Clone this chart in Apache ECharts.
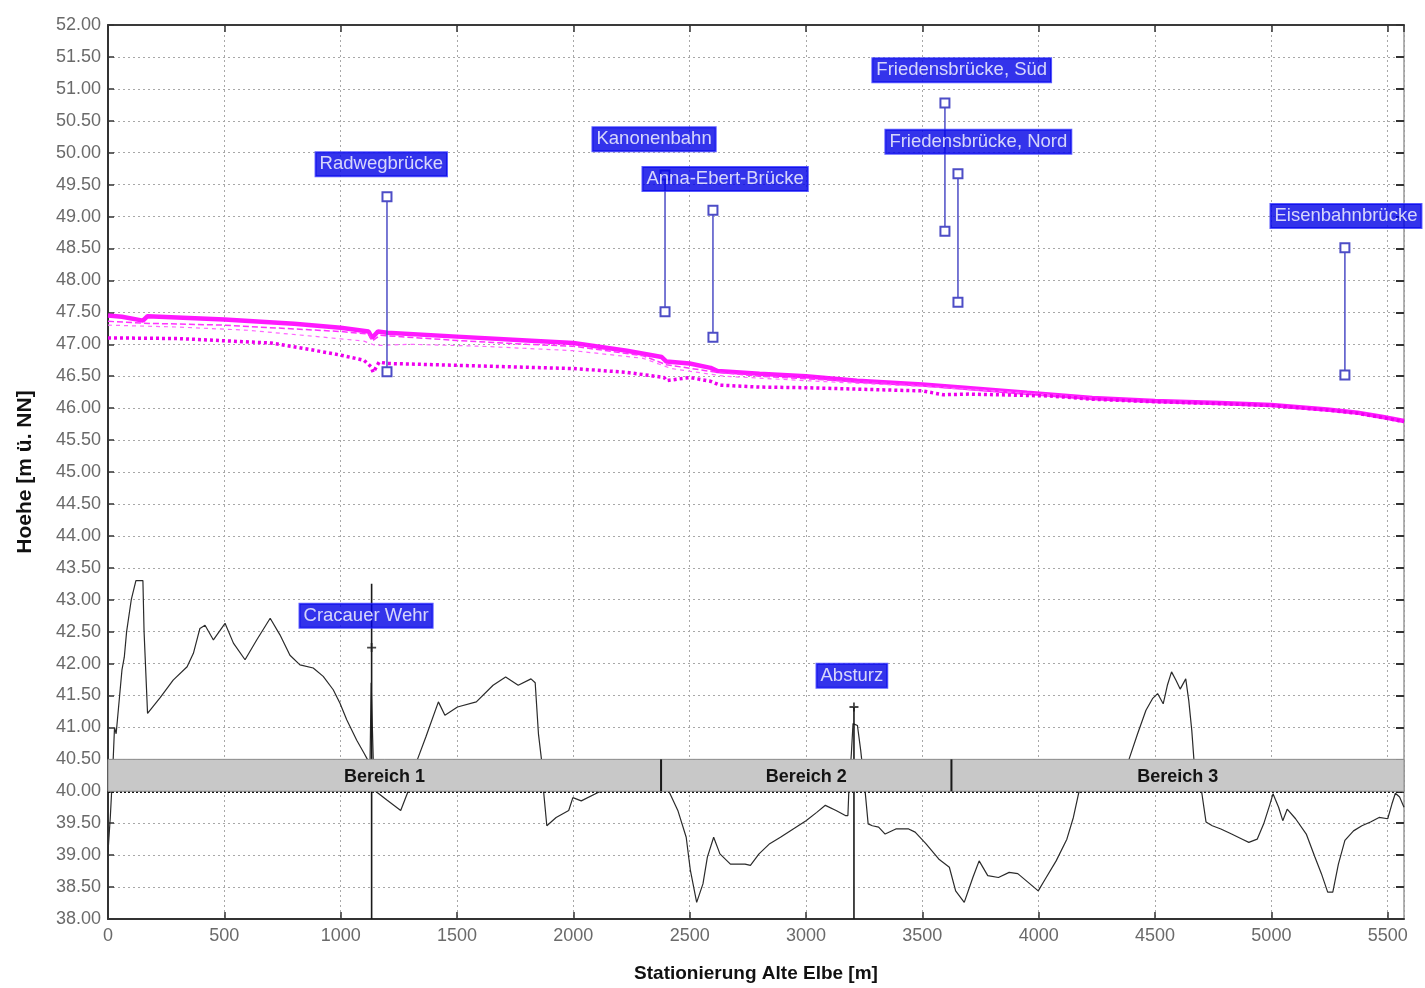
<!DOCTYPE html>
<html>
<head>
<meta charset="utf-8">
<script src="https://cdn.jsdelivr.net/npm/echarts@6/dist/echarts.min.js"></script>
<style>
  html, body { margin: 0; padding: 0; background: #ffffff; }
  #chart { width: 1425px; height: 988px; }
</style>
</head>
<body>
<div id="chart"></div>
<script>
// Axis ranges (Stationierung in m, Höhe in m ü. NN)
const X_MIN = 0, X_MAX = 5570, X_STEP = 500;
const Y_MIN = 38, Y_MAX = 52, Y_STEP = 0.5;

// Sohlprofil (bed profile) along the Alte Elbe
const bedStation = [0, 10, 20, 28, 35, 45, 50, 60, 70, 80, 100, 120, 150, 155, 170, 225, 280, 340, 367, 395,
  417, 453, 503, 539, 589, 639, 697, 739, 782, 825, 882, 925, 968, 997, 1026, 1069, 1100, 1115, 1126, 1131,
  1138, 1143, 1150, 1200, 1258, 1290, 1310, 1330, 1366, 1420, 1448, 1502, 1583, 1655, 1709, 1763, 1818, 1836, 1850, 1863,
  1872, 1886, 1926, 1980, 1998, 2034, 2106, 2150, 2300, 2400, 2413, 2449, 2485, 2503, 2530, 2557, 2576, 2603, 2630, 2675,
  2738, 2761, 2798, 2844, 2890, 2945, 3000, 3046, 3083, 3129, 3169, 3180, 3184, 3195, 3202, 3221, 3235, 3245, 3254, 3267,
  3285, 3312, 3340, 3386, 3441, 3469, 3515, 3570, 3616, 3643, 3680, 3717, 3744, 3781, 3827, 3873, 3910, 3956, 3998, 4029,
  4075, 4121, 4149, 4173, 4250, 4350, 4388, 4425, 4461, 4489, 4511, 4535, 4553, 4571, 4590, 4608, 4632, 4645, 4658, 4667,
  4685, 4700, 4719, 4746, 4783, 4829, 4875, 4903, 4939, 4967, 4994, 5007, 5031, 5049, 5068, 5104, 5150, 5187, 5215, 5242,
  5264, 5288, 5316, 5353, 5389, 5426, 5463, 5500, 5518, 5533, 5551, 5570];
const bedHeight = [39.05, 39.6, 40.3, 41.0, 40.9, 41.3, 41.5, 41.9, 42.1, 42.5, 43.0, 43.3, 43.3, 42.5, 41.22, 41.47, 41.74, 41.95, 42.16, 42.55,
  42.6, 42.37, 42.63, 42.32, 42.06, 42.37, 42.71, 42.45, 42.13, 41.98, 41.93, 41.8, 41.59, 41.38, 41.12, 40.8, 40.6, 40.5, 40.4, 41.7,
  41.7, 40.1, 40.0, 39.86, 39.7, 40.0, 40.3, 40.5, 40.85, 41.4, 41.19, 41.32, 41.4, 41.66, 41.79, 41.66, 41.76, 41.7, 40.9, 40.5,
  40.0, 39.46, 39.59, 39.7, 39.9, 39.85, 39.98, 40.05, 40.1, 40.05, 39.98, 39.7, 39.28, 38.76, 38.26, 38.55, 38.97, 39.28, 39.02, 38.86,
  38.86, 38.84, 39.02, 39.18, 39.28, 39.41, 39.54, 39.67, 39.78, 39.7, 39.62, 39.62, 40.0, 40.6, 41.06, 41.03, 40.64, 40.3, 40.0, 39.49,
  39.46, 39.44, 39.33, 39.41, 39.41, 39.36, 39.18, 38.94, 38.81, 38.44, 38.26, 38.65, 38.91, 38.68, 38.65, 38.73, 38.71, 38.57, 38.44, 38.63,
  38.91, 39.25, 39.59, 39.99, 40.1, 40.3, 40.5, 40.9, 41.27, 41.45, 41.53, 41.37, 41.66, 41.87, 41.74, 41.6, 41.76, 41.42, 40.95, 40.5,
  40.2, 40.0, 39.52, 39.46, 39.41, 39.33, 39.25, 39.2, 39.25, 39.49, 39.8, 39.96, 39.75, 39.54, 39.72, 39.57, 39.33, 38.97, 38.71, 38.42,
  38.42, 38.86, 39.23, 39.38, 39.46, 39.52, 39.59, 39.57, 39.8, 39.97, 39.91, 39.75];

// Wasserspiegellagen (water surface profiles), [station, height]
const wspUpper = [[0, 47.45], [60, 47.43], [150, 47.37], [170, 47.44], [500, 47.39], [800, 47.32], [1000, 47.26], [1120, 47.2],
  [1135, 47.1], [1160, 47.2], [1200, 47.18], [1500, 47.12], [1800, 47.06], [2000, 47.02], [2230, 46.9], [2380, 46.8], [2400, 46.73],
  [2500, 46.7], [2590, 46.63], [2620, 46.58], [2800, 46.54], [3000, 46.5], [3220, 46.43], [3500, 46.37], [3680, 46.32], [3950, 46.24],
  [4230, 46.16], [4500, 46.11], [4780, 46.08], [5000, 46.05], [5240, 45.98], [5370, 45.93], [5480, 45.86], [5570, 45.8]];
const wspSecond = [[0, 47.36], [150, 47.33], [500, 47.3], [800, 47.24], [1000, 47.2], [1120, 47.16], [1135, 47.05], [1170, 47.14],
  [1500, 47.06], [1800, 47.0], [2000, 46.97], [2300, 46.82], [2400, 46.68], [2600, 46.57], [2800, 46.5], [3000, 46.46], [3400, 46.38],
  [3700, 46.3], [4000, 46.23], [4230, 46.16]];
const wspThird = [[0, 47.3], [300, 47.27], [600, 47.22], [900, 47.12], [1100, 47.05], [1150, 46.98], [1300, 47.0], [1600, 46.97],
  [2000, 46.9], [2300, 46.78], [2420, 46.62], [2650, 46.5], [3000, 46.43], [3500, 46.34], [3800, 46.27], [4050, 46.2]];
const wspLower = [[0, 47.1], [300, 47.09], [700, 47.02], [880, 46.91], [1000, 46.83], [1100, 46.75], [1130, 46.65], [1140, 46.56],
  [1165, 46.72], [1200, 46.7], [1500, 46.67], [1800, 46.64], [2000, 46.62], [2230, 46.56], [2390, 46.48], [2400, 46.43], [2500, 46.48],
  [2590, 46.42], [2630, 46.36], [2800, 46.33], [3000, 46.32], [3500, 46.27], [3590, 46.21], [3700, 46.22], [4050, 46.19], [4230, 46.14],
  [4500, 46.1], [4780, 46.07], [5000, 46.04], [5240, 45.97], [5370, 45.92], [5480, 45.85], [5570, 45.79]];

// Brücken: station, Unterkante, Oberkante
const bridgeName = ['Radwegbrücke', 'Kanonenbahn', 'Anna-Ebert-Brücke', 'Friedensbrücke, Süd', 'Friedensbrücke, Nord', 'Eisenbahnbrücke'];
const bridgeStation = [1199, 2394, 2600, 3597, 3653, 5316];
const bridgeBottom = [46.57, 47.51, 47.11, 48.77, 47.66, 46.52];
const bridgeTop = [49.31, 49.65, 49.10, 50.78, 49.67, 48.51];

// Bauwerke im Fluss: station, Oberkante, Markierung
const structName = ['Cracauer Wehr', 'Absturz'];
const structStation = [1133, 3206];
const structTop = [43.25, 41.32];
const structMark = [42.25, 41.32];

// Beschriftungen: linker Rand und Mitte in Achsenkoordinaten
const annoText = ['Radwegbrücke', 'Kanonenbahn', 'Anna-Ebert-Brücke', 'Friedensbrücke, Süd', 'Friedensbrücke, Nord', 'Eisenbahnbrücke', 'Cracauer Wehr', 'Absturz'];
const annoStation = [890, 2080, 2295, 3283, 3339, 4994, 821, 3043];
const annoHeight = [49.82, 50.21, 49.59, 51.29, 50.17, 49.01, 42.75, 41.81];

// Bereiche (Abschnitte) der Alten Elbe
const bandName = ['Bereich 1', 'Bereich 2', 'Bereich 3'];
const bandStart = [0, 2377, 3625];
const bandEnd = [2377, 3625, 5570];
const BAND_LOW = 40.0, BAND_HIGH = 40.5;

const FONT = '"Liberation Sans", Arial, sans-serif';
const chart = echarts.init(document.getElementById('chart'), null, { renderer: 'canvas' });

const gridLine = { show: true, lineStyle: { color: '#a8a8a8', type: [2, 3], width: 1 } };

const series = [];

series.push({
  name: 'Sohle', type: 'line', z: 3, showSymbol: false,
  data: bedStation.map((s, i) => [s, bedHeight[i]]),
  lineStyle: { color: '#2b2b2b', width: 1.2 }
});

series.push({ name: 'WSP 1', type: 'line', z: 4, showSymbol: false, data: wspUpper,
  lineStyle: { color: '#ff00ff', width: 4.5, opacity: 0.9 } });
series.push({ name: 'WSP 2', type: 'line', z: 4, showSymbol: false, data: wspSecond,
  lineStyle: { color: '#ff33ff', width: 1.5, type: [6, 3] } });
series.push({ name: 'WSP 3', type: 'line', z: 4, showSymbol: false, data: wspThird,
  lineStyle: { color: '#ff66ff', width: 1.2, type: [4, 4] } });
series.push({ name: 'WSP 4', type: 'line', z: 4, showSymbol: false, data: wspLower,
  lineStyle: { color: '#ee00ee', width: 3.5, type: [3, 3] } });

// Weir and drop structures (drawn beneath the range bands)
structName.forEach((n, i) => {
  series.push({
    name: n, type: 'line', z: 5, showSymbol: false,
    data: [[structStation[i], Y_MIN], [structStation[i], structTop[i]]],
    lineStyle: { color: '#1a1a1a', width: 1.6 }
  });
});
series.push({
  name: 'Bauwerk', type: 'scatter', z: 5,
  symbol: 'path://M4,0H6V4H10V6H6V10H4V6H0V4H4Z', symbolSize: 9,
  data: structStation.map((s, i) => [s, structMark[i]]),
  itemStyle: { color: '#1a1a1a' }
});

// Gray range bands with their names
series.push({
  name: 'Bereiche', type: 'custom', z: 6, silent: true,
  data: bandStart.map((s, i) => [s, bandEnd[i]]),
  encode: { x: [0, 1] },
  renderItem(params, api) {
    const a = api.coord([api.value(0), BAND_HIGH]);
    const b = api.coord([api.value(1), BAND_LOW]);
    const children = [
      { type: 'rect', shape: { x: a[0], y: a[1], width: b[0] - a[0], height: b[1] - a[1] },
        style: { fill: '#c8c8c8', stroke: '#8c8c8c', lineWidth: 1 } },
      { type: 'text', x: (a[0] + b[0]) / 2, y: (a[1] + b[1]) / 2 + 2,
        style: { text: bandName[params.dataIndex], fill: '#141414', font: 'bold 18px ' + FONT,
                 align: 'center', verticalAlign: 'middle' } }
    ];
    if (params.dataIndex > 0) {
      children.push({ type: 'line', shape: { x1: a[0], y1: a[1], x2: a[0], y2: b[1] },
        style: { stroke: '#1a1a1a', lineWidth: 2 } });
    }
    return { type: 'group', children };
  },
  markLine: {
    silent: true, symbol: 'none', label: { show: false },
    data: [{ yAxis: BAND_LOW }],
    lineStyle: { color: '#111', type: [2, 2], width: 2 }
  }
});

// Bridges: vertical line between lower and upper edge
bridgeName.forEach((n, i) => {
  series.push({
    name: n, type: 'line', z: 8, symbol: 'emptyRect', symbolSize: 9, showSymbol: true,
    data: [[bridgeStation[i], bridgeBottom[i]], [bridgeStation[i], bridgeTop[i]]],
    lineStyle: { color: '#4d4dc6', width: 1.5 },
    itemStyle: { color: '#4d4dc6', borderColor: '#4d4dc6', borderWidth: 1.5 }
  });
});

// Blue name tags
series.push({
  name: 'Beschriftung', type: 'scatter', z: 20, symbolSize: 1,
  itemStyle: { color: 'rgba(0,0,0,0)' },
  data: annoStation.map((s, i) => ({ value: [s, annoHeight[i]], name: annoText[i] })),
  label: {
    show: true, position: 'right', distance: 0, formatter: p => p.name,
    color: '#ffffff', fontSize: 18.5, fontFamily: FONT,
    backgroundColor: '#0000e6', borderColor: '#3232ff', borderWidth: 1,
    padding: [3, 4, 2, 4]
  }
});

chart.setOption({
  animation: false,
  backgroundColor: '#ffffff',
  grid: { left: 108, right: 21, top: 25, bottom: 69 },
  xAxis: [
    {
      type: 'value', position: 'bottom', min: X_MIN, max: X_MAX, interval: X_STEP,
      name: 'Stationierung Alte Elbe [m]', nameLocation: 'middle', nameGap: 45,
      nameTextStyle: { color: '#111', fontSize: 19, fontWeight: 'bold', fontFamily: FONT },
      axisLine: { show: true, onZero: false, lineStyle: { color: '#333', width: 2 } },
      axisTick: { show: true, inside: true, length: 7, lineStyle: { color: '#333', width: 1.5 } },
      axisLabel: { color: '#6a6a6a', fontSize: 18, fontFamily: FONT, margin: 8, showMaxLabel: false,
                   formatter: v => String(Math.round(v)) },
      splitLine: gridLine
    },
    {
      type: 'value', position: 'top', min: X_MIN, max: X_MAX, interval: X_STEP,
      axisLine: { show: true, onZero: false, lineStyle: { color: '#3a3a3a', width: 2 } },
      axisTick: { show: true, inside: true, length: 7, lineStyle: { color: '#333', width: 1.5 } },
      axisLabel: { show: false }, splitLine: { show: false }
    }
  ],
  yAxis: [
    {
      type: 'value', position: 'left', min: Y_MIN, max: Y_MAX, interval: Y_STEP,
      name: 'Hoehe [m ü. NN]', nameLocation: 'middle', nameGap: 72, nameRotate: 90,
      nameTextStyle: { color: '#111', fontSize: 21, fontWeight: 'bold', fontFamily: FONT },
      axisLine: { show: true, onZero: false, lineStyle: { color: '#333', width: 2 } },
      axisTick: { show: true, inside: true, length: 6, lineStyle: { color: '#333', width: 1.5 } },
      axisLabel: { color: '#6a6a6a', fontSize: 18, fontFamily: FONT, margin: 7,
                   formatter: v => v.toFixed(2) },
      splitLine: gridLine
    },
    {
      type: 'value', position: 'right', min: Y_MIN, max: Y_MAX, interval: Y_STEP,
      axisLine: { show: true, onZero: false, lineStyle: { color: '#9a9a9a', width: 1.5 } },
      axisTick: { show: true, inside: true, length: 8, lineStyle: { color: '#333', width: 2 } },
      axisLabel: { show: false }, splitLine: { show: false }
    }
  ],
  series
});
</script>
</body>
</html>
